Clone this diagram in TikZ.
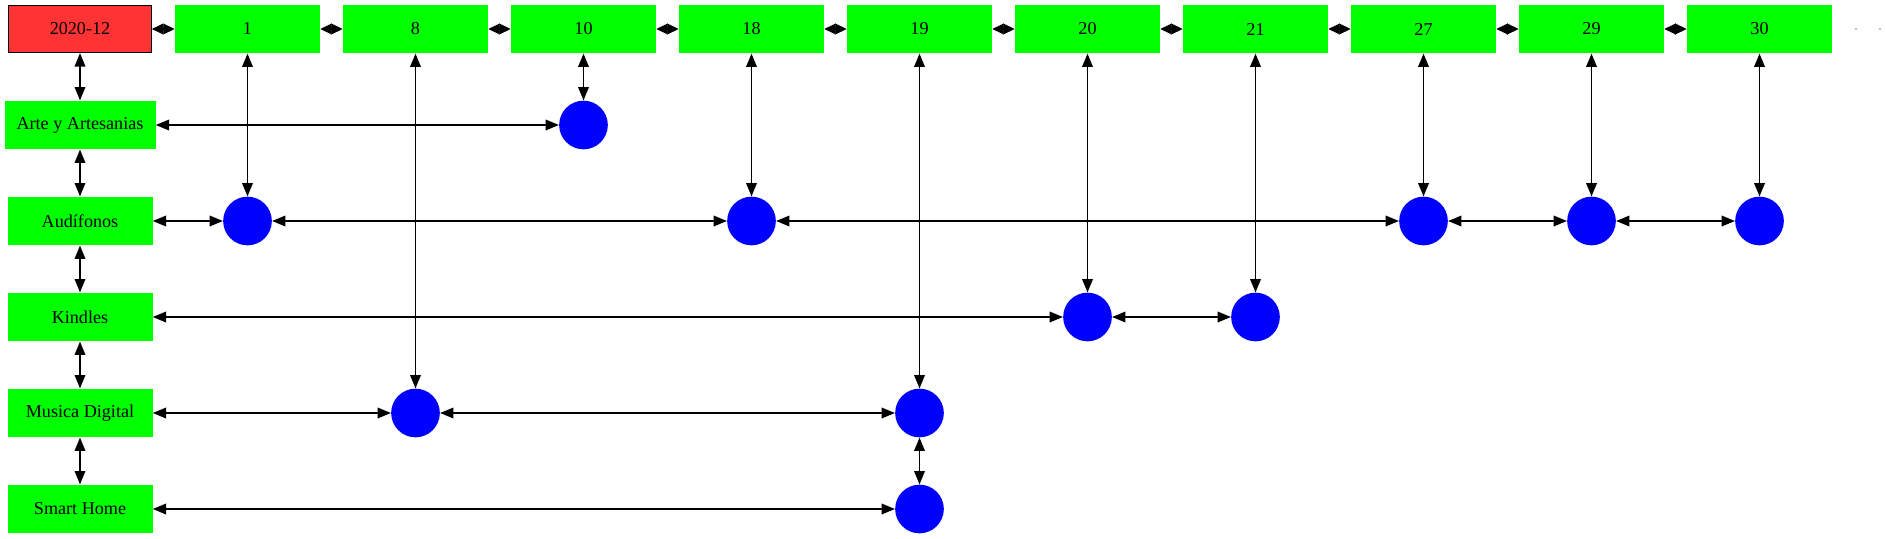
\documentclass[tikz,border=0pt]{standalone}
\usepackage{fontspec}
\setmainfont{Liberation Serif}
\usetikzlibrary{arrows.meta}
\definecolor{boxgreen}{HTML}{00FF00}
\definecolor{boxred}{HTML}{FF3333}
\definecolor{dotblue}{HTML}{0000FF}
\begin{document}
\begin{tikzpicture}[x=0.75pt,y=-0.75pt,
  every node/.style={font=\fontsize{13.6}{15}\selectfont, inner sep=0pt},
  cat/.style={rectangle, fill=boxgreen, minimum width=108.75pt, minimum height=36.5pt},
  root/.style={rectangle, fill=boxred, draw=black, line width=0.75pt, minimum width=107pt, minimum height=35.5pt},
  ball/.style={circle, fill=dotblue, minimum size=36.5pt},
  tinydot/.style={circle, fill=gray, minimum size=1.2pt},
  link/.style={line width=1pt, {Triangle[length=10pt,width=8pt]}-{Triangle[length=10pt,width=8pt]}},
  chain/.style={line width=1pt, {Triangle[length=8.6pt,width=8pt]}-{Triangle[length=8.6pt,width=8pt]}}
]
\useasboundingbox (0,0) rectangle (1885,539);
% left column
\node[root] (r) at (80,29) {2020-12};
\node[cat, minimum width=113.25pt] (arte) at (80,125) {Arte y Artesanias};
\node[cat] (aud) at (80,221) {Audífonos};
\node[cat] (kin) at (80,317) {Kindles};
\node[cat] (mus) at (80,413) {Musica Digital};
\node[cat] (sma) at (80,509) {Smart Home};
% top row
\node[cat] (t1) at (247.5,29) {1};
\node[cat] (t8) at (415.5,29) {8};
\node[cat] (t10) at (583.5,29) {10};
\node[cat] (t18) at (751.5,29) {18};
\node[cat] (t19) at (919.5,29) {19};
\node[cat] (t20) at (1087.5,29) {20};
\node[cat] (t21) at (1255.5,29) {21};
\node[cat] (t27) at (1423.5,29) {27};
\node[cat] (t29) at (1591.5,29) {29};
\node[cat] (t30) at (1759.5,29) {30};
\node[tinydot] (e1) at (1856,29) {};
\node[tinydot] (e2) at (1880,29) {};
% circles
\node[ball] (a10) at (583.5,125) {};
\node[ball] (b1) at (247.5,221) {};
\node[ball] (b18) at (751.5,221) {};
\node[ball] (b27) at (1423.5,221) {};
\node[ball] (b29) at (1591.5,221) {};
\node[ball] (b30) at (1759.5,221) {};
\node[ball] (k20) at (1087.5,317) {};
\node[ball] (k21) at (1255.5,317) {};
\node[ball] (m8) at (415.5,413) {};
\node[ball] (m19) at (919.5,413) {};
\node[ball] (s19) at (919.5,509) {};
% top chain
\draw[chain] (r) -- (t1);
\draw[chain] (t1) -- (t8);
\draw[chain] (t8) -- (t10);
\draw[chain] (t10) -- (t18);
\draw[chain] (t18) -- (t19);
\draw[chain] (t19) -- (t20);
\draw[chain] (t20) -- (t21);
\draw[chain] (t21) -- (t27);
\draw[chain] (t27) -- (t29);
\draw[chain] (t29) -- (t30);
% left chain
\draw[link] (r) -- (arte);
\draw[link] (arte) -- (aud);
\draw[link] (aud) -- (kin);
\draw[link] (kin) -- (mus);
\draw[link] (mus) -- (sma);
% rows
\draw[link] (arte) -- (a10);
\draw[link] (aud) -- (b1);
\draw[link] (b1) -- (b18);
\draw[link] (b18) -- (b27);
\draw[link] (b27) -- (b29);
\draw[link] (b29) -- (b30);
\draw[link] (kin) -- (k20);
\draw[link] (k20) -- (k21);
\draw[link] (mus) -- (m8);
\draw[link] (m8) -- (m19);
\draw[link] (sma) -- (s19);
% columns
\draw[link] (t10) -- (a10);
\draw[link] (t1) -- (b1);
\draw[link] (t18) -- (b18);
\draw[link] (t27) -- (b27);
\draw[link] (t29) -- (b29);
\draw[link] (t30) -- (b30);
\draw[link] (t20) -- (k20);
\draw[link] (t21) -- (k21);
\draw[link] (t8) -- (m8);
\draw[link] (t19) -- (m19);
\draw[link] (m19) -- (s19);
\end{tikzpicture}
\end{document}
